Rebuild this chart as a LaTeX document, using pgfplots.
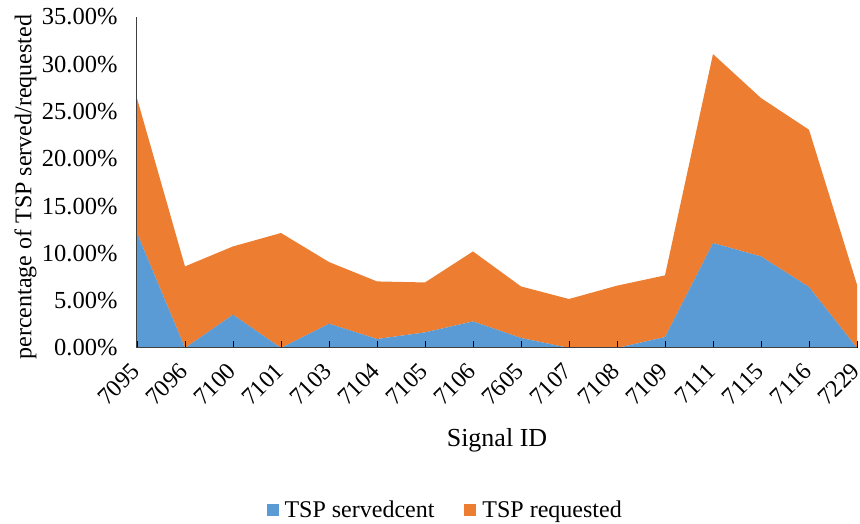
\documentclass[border=0pt]{standalone}
\usepackage{pgfplots}
\pgfplotsset{compat=1.18}
\usepackage{fontspec}
\setmainfont{Liberation Serif}
\definecolor{servedblue}{HTML}{5B9BD5}
\definecolor{reqorange}{HTML}{ED7D31}
\definecolor{axisgray}{HTML}{404040}
\begin{document}
\begin{tikzpicture}
\useasboundingbox (-137pt,-176pt) rectangle (723pt,348pt);
\begin{axis}[
  at={(0pt,0pt)}, anchor=south west,
  scale only axis, width=720pt, height=331pt,
  xmin=0, xmax=15, ymin=0, ymax=35,
  stack plots=y,
  axis on top,
  axis x line*=bottom, axis y line*=left,
  axis line style={axisgray, line width=1pt, -},
  xtick={0,...,15},
  xticklabels={7095,7096,7100,7101,7103,7104,7105,7106,7605,7107,7108,7109,7111,7115,7116,7229},
  x tick label style={xshift=-7pt, yshift=-12pt, rotate=45, anchor=north east, font=\fontsize{24}{28}\selectfont, inner sep=1pt},
  tick align=inside,
  major tick length=7pt,
  xtick style={black, line width=0.8pt},
  ytick={0,5,...,35},
  ytick style={draw=none},
  yticklabel={\pgfmathprintnumber[fixed,fixed zerofill,precision=2,assume math mode=true]{\tick}\%},
  y tick label style={font=\fontsize{24.5}{28}\selectfont, xshift=-16pt},
  xlabel={Signal ID},
  xlabel style={at={(axis description cs:0.5,-0.278)}, anchor=center, font=\fontsize{26}{30}\selectfont},
  ylabel={percentage of TSP served/requested},
  ylabel style={at={(axis description cs:-0.155,0.486)}, anchor=center, font=\fontsize{24}{28}\selectfont},
  legend columns=2,
  legend style={at={(axis description cs:0.428,-0.489)}, anchor=center, draw=none, fill=none,
    font=\fontsize{24}{28}\selectfont,
    /tikz/every odd column/.append style={column sep=4pt},
    /tikz/every even column/.append style={column sep=28pt}},
  legend image code/.code={\fill[#1] (0pt,-6pt) rectangle (12pt,6pt);},
]
\addplot[fill=servedblue, draw=none] coordinates {
(0,12.16) (1,0) (2,3.52) (3,0) (4,2.57) (5,0.95) (6,1.65) (7,2.81)
(8,1.06) (9,0) (10,0) (11,1.16) (12,11.10) (13,9.68) (14,6.45) (15,0)
} \closedcycle;
\addlegendentry{TSP servedcent}
\addplot[fill=reqorange, draw=none] coordinates {
(0,14.24) (1,8.63) (2,7.22) (3,12.16) (4,6.52) (5,6.09) (6,5.28) (7,7.40)
(8,5.45) (9,5.18) (10,6.59) (11,6.52) (12,19.98) (13,16.75) (14,16.63) (15,6.69)
} \closedcycle;
\addlegendentry{TSP requested}
\end{axis}
\end{tikzpicture}
\end{document}
